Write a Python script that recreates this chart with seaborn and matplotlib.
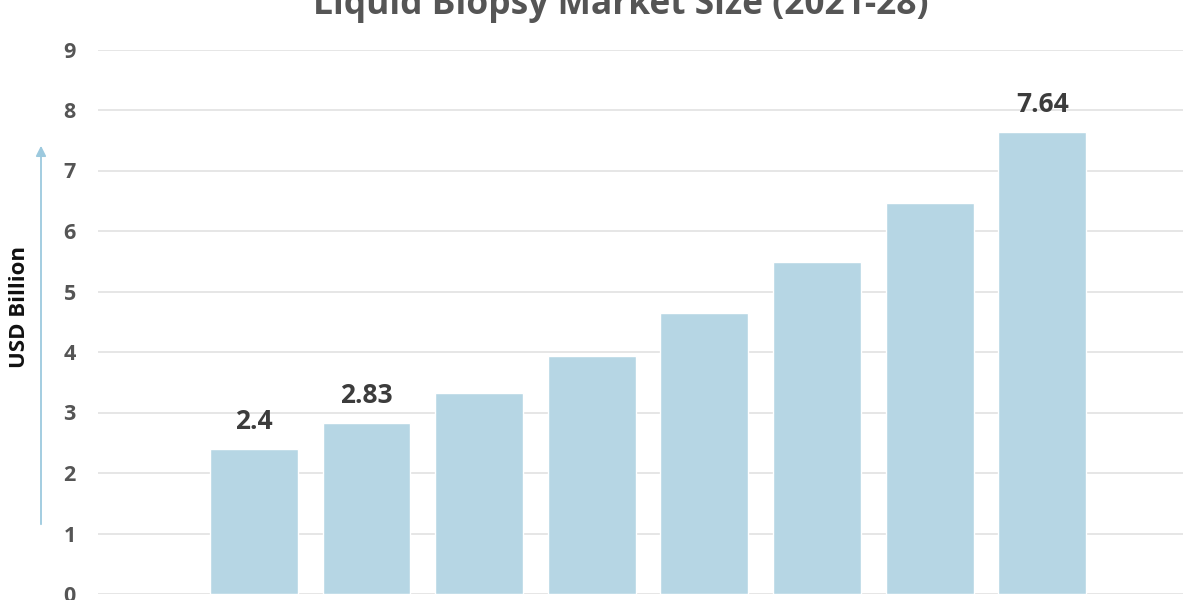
import matplotlib
matplotlib.use("Agg")
import matplotlib.pyplot as plt
import seaborn as sns
import pandas as pd

years = ["2021", "2022", "2023", "2024", "2025", "2026", "2027", "2028"]
values = [2.40, 2.83, 3.33, 3.93, 4.64, 5.48, 6.46, 7.64]
labels = ["2.4", "2.83", "", "", "", "", "", "7.64"]
title = "Liquid Biopsy Market Size (2021-28)"
ylabel = "USD Billion"

sns.set_theme(style="white")
plt.rcParams['font.family'] = ['Open Sans', 'DejaVu Sans']

df = pd.DataFrame({"year": years, "value": values})

fig = plt.figure(figsize=(12, 6), dpi=100)
ax = fig.add_axes([98/1200, 6/600, (1183-98)/1200, (594-49.5)/600])

sns.barplot(data=df, x="year", y="value", color="#B6D6E4", saturation=1,
            width=0.78, ax=ax, zorder=2)

ax.set_ylim(0, 9)
ax.set_xlim(-1.385, 8.25)
ax.set_yticks(range(0, 10))
ax.yaxis.grid(True, color="#e2e2e2", linewidth=1.2, zorder=0)
ax.set_axisbelow(True)
for s in ax.spines.values():
    s.set_visible(False)
ax.tick_params(axis="y", length=0, pad=16, labelsize=15.5, labelcolor="#555555")
for t in ax.get_yticklabels():
    t.set_fontweight("bold")
ax.set_xticklabels([])
ax.tick_params(axis="x", length=0)
ax.set_xlabel("")
ax.set_ylabel("")

for i, (v, lab) in enumerate(zip(values, labels)):
    if lab:
        ax.annotate(lab, (i, v), xytext=(0, 20), textcoords="offset points",
                    ha="center", va="center", fontsize=19, fontweight="bold",
                    color="#3c3c3c")

fig.text(621/1200, 1 - 5/600, title, ha="center", va="center",
         fontsize=25.5, fontweight="bold", color="#555555")

fig.text(20/1200, 1 - 307/600, ylabel, rotation=90, ha="center", va="center",
         fontsize=16, fontweight="bold", color="#111111")

fig.add_artist(matplotlib.patches.FancyArrowPatch(
    (41/1200, 1 - 527/600), (41/1200, 1 - 143/600),
    transform=fig.transFigure, arrowstyle="-|>,head_length=6,head_width=3",
    color="#9cc9de", linewidth=1.3, mutation_scale=1))

fig.savefig("out.png", dpi=100)
